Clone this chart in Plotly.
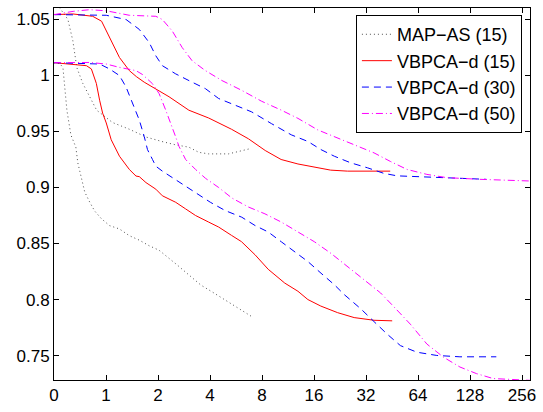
import plotly.graph_objects as go

# x positions on the axis: 0,1,2,...,9 correspond to labels 0,1,2,4,...,256
tick_pos = [0, 1, 2, 3, 4, 5, 6, 7, 8, 9]
tick_text = ["0", "1", "2", "4", "8", "16", "32", "64", "128", "256"]
y_ticks = [0.75, 0.8, 0.85, 0.9, 0.95, 1.0, 1.05]
y_tick_text = ["0.75", "0.8", "0.85", "0.9", "0.95", "1", "1.05"]

# MAP-AS (15)
map_hi_x = [0.08, 0.114, 0.267, 0.362, 0.439, 0.553, 0.820, 1.125, 1.449, 1.773, 2.079, 2.346, 2.593, 2.784, 2.975, 3.356, 3.776]
map_hi_y = [1.064, 1.060, 1.050, 1.031, 1.007, 0.993, 0.969, 0.958, 0.952, 0.945, 0.941, 0.938, 0.936, 0.9314, 0.930, 0.930, 0.9347]
map_lo_x = [0, 0.114, 0.172, 0.210, 0.248, 0.324, 0.420, 0.458, 0.534, 0.591, 0.686, 0.782, 0.915, 1.068, 1.259, 1.449, 1.640, 1.831, 2.021, 2.212, 2.365, 2.593, 2.822, 3.070, 3.318, 3.547, 3.795]
map_lo_y = [1.0113, 1.0105, 1.007, 0.989, 0.969, 0.947, 0.936, 0.922, 0.907, 0.896, 0.887, 0.879, 0.872, 0.866, 0.863, 0.857, 0.853, 0.848, 0.844, 0.837, 0.831, 0.822, 0.813, 0.806, 0.799, 0.792, 0.785]

# VBPCA-d (15)
v15_hi_x = [0, 0.019, 0.362, 0.744, 0.915, 1.068, 1.259, 1.449, 1.583, 1.735, 1.964, 2.212, 2.593, 2.975, 3.413, 3.738, 4.062, 4.367, 4.691, 5.015, 5.320, 5.645, 6.465]
v15_hi_y = [1.0546, 1.0543, 1.0549, 1.0528, 1.0484, 1.0337, 1.016, 1.0043, 0.999, 0.994, 0.988, 0.981, 0.969, 0.962, 0.952, 0.9435, 0.933, 0.925, 0.921, 0.918, 0.9155, 0.9146, 0.9146]
v15_lo_x = [0, 0.362, 0.624, 0.719, 0.814, 0.877, 0.935, 1.005, 1.068, 1.100, 1.259, 1.449, 1.577, 1.640, 1.768, 1.958, 2.084, 2.340, 2.531, 2.722, 2.975, 3.166, 3.413, 3.604, 3.865, 4.119, 4.437, 4.691, 4.882, 5.130, 5.454, 5.772, 6.154, 6.503]
v15_lo_y = [1.0114, 1.0102, 1.0087, 1.0058, 0.9929, 0.9779, 0.9664, 0.9576, 0.9488, 0.9426, 0.9279, 0.9161, 0.9102, 0.9097, 0.9044, 0.8985, 0.8926, 0.8868, 0.8809, 0.8750, 0.8691, 0.8647, 0.8573, 0.8517, 0.8400, 0.8270, 0.8147, 0.8074, 0.8000, 0.7942, 0.7883, 0.7839, 0.7815, 0.7810]

# VBPCA-d (30)
v30_hi_x = [0, 1.005, 1.386, 1.640, 1.831, 1.958, 2.084, 2.340, 2.656, 2.912, 3.166, 3.484, 3.800, 4.182, 4.563, 4.882, 5.135, 5.391, 5.707, 6.026, 6.344, 6.598, 6.916, 7.551, 8.314]
v30_hi_y = [1.0543, 1.0537, 1.0499, 1.0411, 1.0293, 1.0175, 1.0087, 1.0014, 0.9940, 0.9882, 0.9794, 0.9735, 0.9675, 0.9570, 0.9470, 0.9411, 0.9338, 0.9279, 0.9220, 0.9176, 0.9126, 0.9104, 0.9097, 0.9085, 0.9073]
v30_lo_x = [0, 0.877, 1.068, 1.259, 1.386, 1.512, 1.640, 1.735, 1.798, 1.894, 1.958, 2.084, 2.275, 2.465, 2.721, 3.007, 3.293, 3.610, 3.865, 4.119, 4.372, 4.628, 4.882, 5.135, 5.391, 5.582, 5.898, 6.154, 6.407, 6.661, 6.979, 7.361, 7.805, 8.505]
v30_lo_y = [1.0114, 1.0102, 1.0058, 0.9999, 0.9896, 0.9750, 0.9602, 0.9455, 0.9338, 0.9250, 0.9190, 0.9146, 0.9088, 0.9029, 0.8956, 0.8868, 0.8794, 0.8735, 0.8661, 0.8603, 0.8515, 0.8427, 0.8339, 0.8235, 0.8132, 0.8044, 0.7918, 0.7803, 0.7691, 0.7589, 0.7530, 0.7501, 0.7489, 0.7489]

# VBPCA-d (50)
v50_hi_x = [0, 0.368, 0.686, 1.005, 1.449, 1.958, 2.084, 2.275, 2.465, 2.656, 2.912, 3.228, 3.610, 3.991, 4.372, 4.691, 5.072, 5.454, 5.772, 6.154, 6.471, 6.789, 7.170, 7.551, 8.186, 9.153]
v50_hi_y = [1.0543, 1.0572, 1.0587, 1.0577, 1.0537, 1.0528, 1.0499, 1.0396, 1.0249, 1.0131, 1.0043, 0.9955, 0.9867, 0.9770, 0.9690, 0.9617, 0.9514, 0.9441, 0.9382, 0.9309, 0.9232, 0.9161, 0.9117, 0.9088, 0.9073, 0.9058]
v50_lo_x = [0, 0.686, 1.005, 1.259, 1.577, 1.703, 1.894, 2.021, 2.149, 2.275, 2.346, 2.403, 2.531, 2.722, 2.913, 3.166, 3.421, 3.738, 4.056, 4.373, 4.691, 5.010, 5.326, 5.645, 5.963, 6.280, 6.535, 6.852, 7.170, 7.488, 7.805, 8.124, 8.443, 9.153]
v50_lo_y = [1.0114, 1.0116, 1.0102, 1.0072, 1.0043, 1.0008, 0.9926, 0.9838, 0.9690, 0.9543, 0.9444, 0.9367, 0.9250, 0.9161, 0.9082, 0.9000, 0.8906, 0.8826, 0.8765, 0.8691, 0.8603, 0.8515, 0.8412, 0.8295, 0.8176, 0.8059, 0.7936, 0.7780, 0.7603, 0.7486, 0.7398, 0.7339, 0.7295, 0.7279]

series = [
    ("MAP\u2212AS (15)", map_hi_x, map_hi_y, map_lo_x, map_lo_y, "#505050", "1px,3px"),
    ("VBPCA\u2212d (15)", v15_hi_x, v15_hi_y, v15_lo_x, v15_lo_y, "#ff0000", "solid"),
    ("VBPCA\u2212d (30)", v30_hi_x, v30_hi_y, v30_lo_x, v30_lo_y, "#0000ff", "7px,5px"),
    ("VBPCA\u2212d (50)", v50_hi_x, v50_hi_y, v50_lo_x, v50_lo_y, "#ff00ff", "7px,3px,1px,3px"),
]

fig = go.Figure()
for name, hx, hy, lx, ly, col, dash in series:
    fig.add_trace(go.Scatter(x=hx, y=hy, mode="lines", name=name, legendgroup=name,
                             line=dict(color=col, width=1, dash=dash)))
    fig.add_trace(go.Scatter(x=lx, y=ly, mode="lines", name=name, legendgroup=name,
                             showlegend=False, line=dict(color=col, width=1, dash=dash)))

font = dict(family="Liberation Sans, Arial, sans-serif", size=17, color="black")
fig.update_layout(
    width=543, height=412,
    margin=dict(l=54, r=9, t=7, b=29),
    paper_bgcolor="white", plot_bgcolor="white",
    font=font,
    showlegend=True,
    legend=dict(x=0.983, y=0.981, xanchor="right", yanchor="top",
                bordercolor="black", borderwidth=1, bgcolor="white",
                font=dict(family="Liberation Sans, Arial, sans-serif", size=18, color="black"),
                tracegroupgap=0, itemwidth=30),
)
fig.update_xaxes(range=[0, 9.153], tickvals=tick_pos, ticktext=tick_text,
                 showgrid=False, zeroline=False, showline=True, linecolor="black", linewidth=1,
                 mirror="ticks", ticks="inside", ticklen=5, tickcolor="black")
fig.update_yaxes(range=[0.7282, 1.0602], tickvals=y_ticks, ticktext=y_tick_text,
                 showgrid=False, zeroline=False, showline=True, linecolor="black", linewidth=1,
                 mirror="ticks", ticks="inside", ticklen=5, tickcolor="black")

fig.write_html("out.html")
